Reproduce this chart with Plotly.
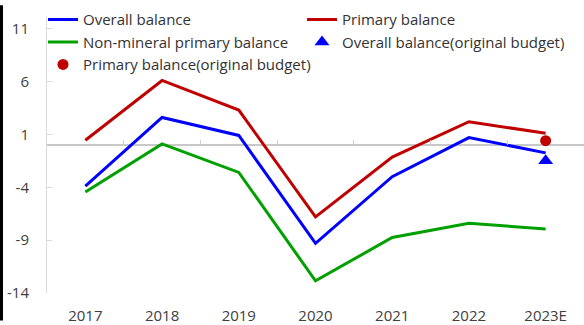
import plotly.graph_objects as go

years = ["2017", "2018", "2019", "2020", "2021", "2022", "2023E"]
overall = [-3.9, 2.6, 0.9, -9.3, -3.0, 0.7, -0.75]
primary = [0.45, 6.1, 3.3, -6.8, -1.15, 2.2, 1.1]
non_mineral = [-4.45, 0.1, -2.6, -12.85, -8.75, -7.4, -7.95]
overall_budget_x = ["2023E"]
overall_budget = [-1.5]
primary_budget_x = ["2023E"]
primary_budget = [0.4]
y_ticks = [11, 6, 1, -4, -9, -14]

BLUE = "#0000FF"
RED = "#C00000"
GREEN = "#00A000"
FONT = "Open Sans"

W, H = 584, 325
ML, MR, MT, MB = 47, 0, 17, 28
PW, PH = W - ML - MR, H - MT - MB
Y0, Y1 = -14, 12.1

fig = go.Figure()
fig.add_trace(go.Scatter(x=years, y=overall, mode="lines", name="Overall balance",
                         line=dict(color=BLUE, width=3), legend="legend"))
fig.add_trace(go.Scatter(x=years, y=primary, mode="lines", name="Primary balance",
                         line=dict(color=RED, width=3), legend="legend2"))
fig.add_trace(go.Scatter(x=years, y=non_mineral, mode="lines", name="Non-mineral primary balance",
                         line=dict(color=GREEN, width=3), legend="legend"))
fig.add_trace(go.Scatter(x=overall_budget_x, y=overall_budget, mode="markers",
                         name="Overall balance(original budget)",
                         marker=dict(symbol="triangle-up", color=BLUE, size=13), legend="legend2"))
fig.add_trace(go.Scatter(x=primary_budget_x, y=primary_budget, mode="markers",
                         name="Primary balance(original budget)",
                         marker=dict(symbol="circle", color=RED, size=11), legend="legend"))
# invisible trace to carry the boundary ticks on the zero line
fig.add_trace(go.Scatter(x=[0], y=[0], xaxis="x2", mode="markers", showlegend=False,
                         marker=dict(opacity=0), hoverinfo="skip"))

zero_frac = (0 - Y0) / (Y1 - Y0)

leg_common = dict(orientation="v", xanchor="left", y=1 + 14 / PH, yanchor="top",
                  font=dict(family=FONT, size=15, color="#333333"),
                  bgcolor="rgba(0,0,0,0)", itemwidth=30, tracegroupgap=0)

fig.update_layout(
    width=W, height=H,
    margin=dict(l=ML, r=MR, t=MT, b=MB, pad=0),
    paper_bgcolor="white", plot_bgcolor="white",
    font=dict(family=FONT, size=15, color="#404040"),
    showlegend=True,
    legend=dict(x=-4 / PW, **leg_common),
    legend2=dict(x=255 / PW, **leg_common),
    xaxis=dict(type="category", range=[-0.5, 6.5], showline=False, ticks="",
               showgrid=False, zeroline=False, ticklabelstandoff=12,
               tickfont=dict(family=FONT, size=15, color="#404040")),
    xaxis2=dict(overlaying="x", anchor="free", position=zero_frac, side="top",
                range=[-0.5, 6.5], tickvals=[0.5, 1.5, 2.5, 3.5, 4.5, 5.5],
                ticks="outside", ticklen=5, tickcolor="#D0D0D0", showticklabels=False,
                showline=False, showgrid=False, zeroline=False),
    yaxis=dict(range=[Y0, Y1], tickvals=y_ticks, ticktext=[str(v) for v in y_ticks],
               showgrid=False, showline=True, linecolor="#D9D9D9", linewidth=1,
               ticks="inside", ticklen=5, tickcolor="#D9D9D9",
               zeroline=True, zerolinecolor="#C8C8C8", zerolinewidth=1.5,
               ticklabelstandoff=14,
               tickfont=dict(family=FONT, size=15, color="#404040")),
    shapes=[dict(type="rect", xref="paper", yref="paper",
                 x0=-ML / PW, x1=-(ML - 3) / PW,
                 y0=-MB / PH, y1=(H - MB - 5) / PH,
                 fillcolor="black", line=dict(width=0), layer="above")],
)

fig.write_html("out.html", config={"displayModeBar": False},
               post_script="document.body.style.margin='0';")
